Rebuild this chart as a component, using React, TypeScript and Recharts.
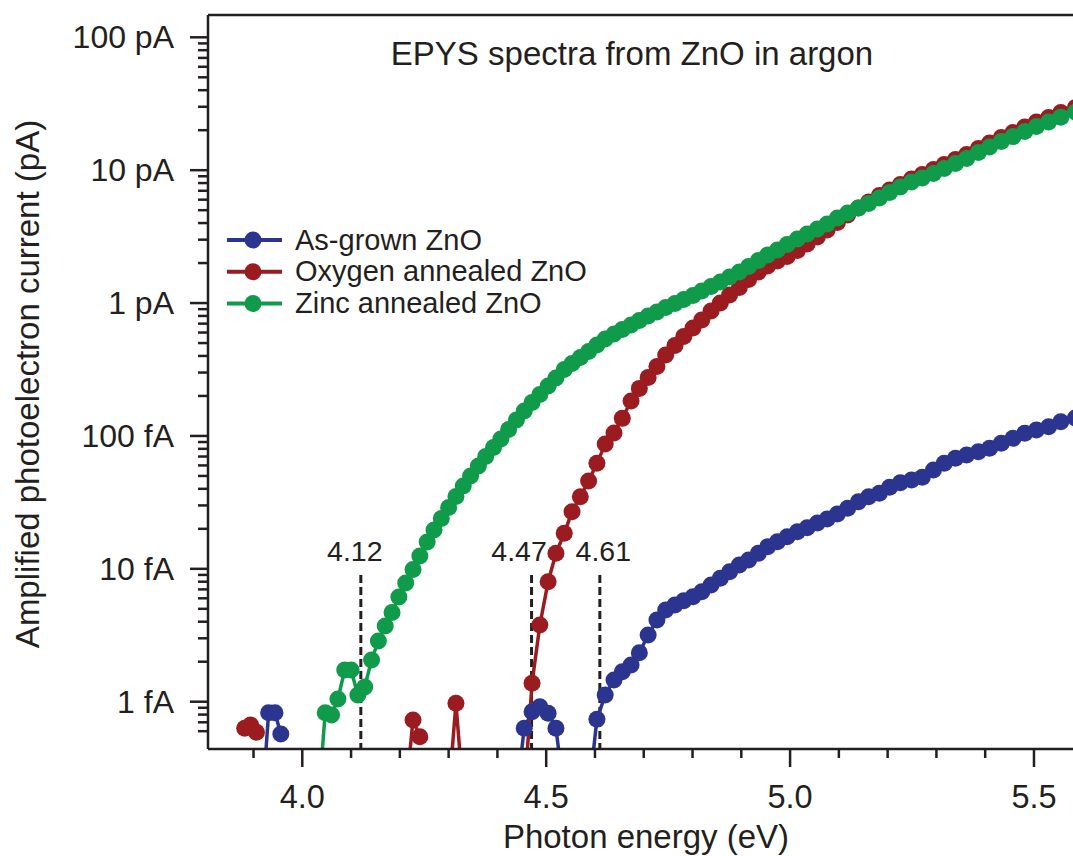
import React from 'react';
import { LineChart, Line, XAxis, YAxis, ReferenceLine, Legend } from 'recharts';

// ---------- data (photon energy in eV, photoelectron current in pA) ----------
// B marks readings that fall below the plotted range (only the line toward them is visible)
const B = 0.0002;

const energy = [
  3.870, 3.882, 3.894, 3.906, 3.919, 3.931, 3.944, 3.956, 3.969, 3.982,
  3.995, 4.007, 4.021, 4.034, 4.047, 4.060, 4.073, 4.087, 4.100, 4.114,
  4.128, 4.142, 4.156, 4.170, 4.184, 4.198, 4.212, 4.227, 4.241, 4.256,
  4.270, 4.285, 4.300, 4.315, 4.330, 4.345, 4.361, 4.376, 4.392, 4.407,
  4.423, 4.439, 4.455, 4.471, 4.487, 4.504, 4.520, 4.537, 4.553, 4.570,
  4.587, 4.604, 4.621, 4.639, 4.656, 4.674, 4.691, 4.709, 4.727, 4.745,
  4.764, 4.782, 4.801, 4.819, 4.838, 4.857, 4.876, 4.896, 4.915, 4.935,
  4.954, 4.974, 4.994, 5.015, 5.035, 5.056, 5.076, 5.097, 5.118, 5.140,
  5.161, 5.183, 5.204, 5.226, 5.249, 5.271, 5.294, 5.316, 5.339, 5.362,
  5.386, 5.409, 5.433, 5.457, 5.481, 5.505, 5.530, 5.555, 5.585,
];

const asGrown = [
  null, null, null, null, B, 8.26e-4, 8.26e-4, 5.71e-4, null, null,
  null, null, null, null, null, null, null, null, null, null,
  null, null, null, null, null, null, null, null, null, null,
  null, null, null, null, null, null, null, null, null, null,
  null, B, 6.31e-4, 8.41e-4, 9.17e-4, 8.18e-4, 6.31e-4, B, null, null,
  B, 7.37e-4, 1.122e-3, 1.457e-3, 1.682e-3, 1.888e-3, 2.338e-3, 3.177e-3, 4.12e-3, 4.9e-3,
  5.34e-3, 5.75e-3, 6.17e-3, 6.73e-3, 7.55e-3, 8.48e-3, 9.51e-3, 1.068e-2, 1.165e-2, 1.308e-2,
  1.467e-2, 1.6e-2, 1.744e-2, 1.902e-2, 2.039e-2, 2.212e-2, 2.37e-2, 2.584e-2, 2.851e-2, 3.198e-2,
  3.487e-2, 3.7e-2, 4.104e-2, 4.446e-2, 4.659e-2, 4.882e-2, 5.537e-2, 6.22e-2, 6.785e-2, 7.18e-2,
  7.6e-2, 8.065e-2, 8.8e-2, 9.59e-2, 0.1046, 0.1108, 0.1173, 0.1279, 0.1364,
];

const oxygenAnnealed = [
  null, 6.31e-4, 6.68e-4, 5.89e-4, null, null, null, null, null, null,
  null, null, null, null, null, null, null, null, null, null,
  null, null, null, null, null, null, B, 7.28e-4, 5.45e-4, null,
  null, null, B, 9.72e-4, B, null, null, null, null, null,
  null, null, B, 1.375e-3, 3.776e-3, 8.0e-3, 1.308e-2, 1.849e-2, 2.69e-2, 3.487e-2,
  4.578e-2, 6.22e-2, 8.69e-2, 0.1051, 0.1356, 0.1831, 0.228, 0.275, 0.3329, 0.4063,
  0.4788, 0.5596, 0.6484, 0.7449, 0.8705, 1.0, 1.149, 1.308, 1.502, 1.711,
  1.898, 2.07, 2.238, 2.483, 2.779, 3.138, 3.543, 4.034, 4.595, 5.185,
  5.754, 6.44, 7.086, 7.793, 8.57, 9.267, 10.1, 11.02, 12.02, 13.1,
  14.54, 15.99, 17.59, 19.18, 21.1, 23.01, 24.87, 27.13, 29.58,
];

const zincAnnealed = [
  null, null, null, null, null, null, null, null, null, null,
  null, null, null, B, 8.26e-4, 7.94e-4, 1.048e-3, 1.732e-3, 1.732e-3, 1.123e-3,
  1.29e-3, 2.06e-3, 2.862e-3, 3.713e-3, 4.691e-3, 6.135e-3, 7.82e-3, 9.88e-3, 1.248e-2, 1.591e-2,
  1.958e-2, 2.39e-2, 2.892e-2, 3.5e-2, 4.198e-2, 4.993e-2, 5.935e-2, 7.0e-2, 8.18e-2, 9.48e-2,
  0.1117, 0.1317, 0.1539, 0.1784, 0.2049, 0.2374, 0.2727, 0.316, 0.3506, 0.389,
  0.4315, 0.4831, 0.5359, 0.5843, 0.6318, 0.6832, 0.7384, 0.7985, 0.8556, 0.9249,
  0.9913, 1.062, 1.139, 1.231, 1.331, 1.439, 1.569, 1.711, 1.882, 2.088,
  2.297, 2.505, 2.755, 3.031, 3.306, 3.605, 3.93, 4.362, 4.756, 5.185,
  5.607, 6.168, 6.785, 7.463, 8.137, 8.722, 9.428, 10.28, 11.21, 12.23,
  13.57, 14.92, 16.41, 17.89, 19.52, 21.29, 23.01, 25.08, 27.36,
];

const seriesNames = ['As-grown ZnO', 'Oxygen annealed ZnO', 'Zinc annealed ZnO'];

const onsetEnergies = [4.12, 4.47, 4.61];
const onsetLabels = ['4.12', '4.47', '4.61'];

const xTicks = [3.9, 4.0, 4.1, 4.2, 4.3, 4.4, 4.5, 4.6, 4.7, 4.8, 4.9, 5.0, 5.1, 5.2, 5.3, 5.4, 5.5];
const xMajorTicks = [4.0, 4.5, 5.0, 5.5];
const xTickLabels = ['4.0', '4.5', '5.0', '5.5'];

const yTicks = [
  0.0006, 0.0007, 0.0008, 0.0009,
  0.001, 0.002, 0.003, 0.004, 0.005, 0.006, 0.007, 0.008, 0.009,
  0.01, 0.02, 0.03, 0.04, 0.05, 0.06, 0.07, 0.08, 0.09,
  0.1, 0.2, 0.3, 0.4, 0.5, 0.6, 0.7, 0.8, 0.9,
  1, 2, 3, 4, 5, 6, 7, 8, 9,
  10, 20, 30, 40, 50, 60, 70, 80, 90,
  100,
];
const yMajorTicks = [0.001, 0.01, 0.1, 1, 10, 100];
const yTickLabels = ['1 fA', '10 fA', '100 fA', '1 pA', '10 pA', '100 pA'];

// ---------- styling ----------
const FONT = '"Liberation Sans", Arial, Helvetica, sans-serif';
const INK = '#231F20';
const COLORS = ['#2B3590', '#9B1C20', '#0F9B4A'];
const X_DOMAIN: [number, number] = [3.8067, 5.58];
const Y_MIN = 4.406e-4;
const Y_MAX = 147.2;
const ONSET_TOP = 0.009;
const ONSET_DX = [-6, -12.5, 3.5];
const DOT_R = 8.5;

const rows = energy.map((e, i) => ({
  e,
  asGrown: asGrown[i],
  oxygen: oxygenAnnealed[i],
  zinc: zincAnnealed[i],
}));

const XTick = (props: any) => {
  const { x, y, payload } = props;
  const i = xMajorTicks.indexOf(payload.value);
  const major = i >= 0;
  return (
    <g>
      <line x1={x} x2={x} y1={y} y2={y + (major ? 18 : 9)} stroke={INK} strokeWidth={2.5} />
      {major && (
        <text x={x} y={y + 59} textAnchor="middle" fontSize={32.5} fontFamily={FONT} fill={INK}>
          {xTickLabels[i]}
        </text>
      )}
    </g>
  );
};

const YTick = (props: any) => {
  const { x, y, payload } = props;
  const i = yMajorTicks.indexOf(payload.value);
  const major = i >= 0;
  return (
    <g>
      <line x1={x - (major ? 18 : 10)} x2={x} y1={y} y2={y} stroke={INK} strokeWidth={2.5} />
      {major && (
        <text x={x - 34} y={y + 11} textAnchor="end" fontSize={32} fontFamily={FONT} fill={INK}>
          {yTickLabels[i]}
        </text>
      )}
    </g>
  );
};

const OnsetLabel = (props: any) => {
  const { viewBox, text, dx } = props;
  if (!viewBox) return null;
  return (
    <text x={viewBox.x + dx} y={viewBox.y - 13.5} textAnchor="middle" fontSize={28.5} fontFamily={FONT} fill={INK}>
      {text}
    </text>
  );
};

const LegendContent = (props: any) => {
  const { payload } = props;
  if (!payload) return null;
  return (
    <svg width={400} height={100} style={{ display: 'block', overflow: 'visible' }}>
      {payload.map((entry: any, i: number) => {
        const cy = 18 + i * 31.7;
        return (
          <g key={i}>
            <line x1={7} x2={62} y1={cy} y2={cy} stroke={entry.color} strokeWidth={4} />
            <circle cx={33} cy={cy} r={DOT_R} fill={entry.color} />
            <text x={75} y={cy + 9.5} fontSize={29} fontFamily={FONT} fill={INK}>
              {entry.value}
            </text>
          </g>
        );
      })}
    </svg>
  );
};

export default function App() {
  const keys = ['asGrown', 'oxygen', 'zinc'];
  return (
    <div style={{ position: 'absolute', left: 0, top: 0, background: '#fff' }}>
      <LineChart
        width={1073}
        height={856}
        data={rows}
        margin={{ top: 15, right: 0, bottom: 0, left: 0 }}
      >
        <XAxis
          dataKey="e"
          type="number"
          domain={X_DOMAIN}
          allowDataOverflow
          ticks={xTicks}
          interval={0}
          tick={<XTick />}
          tickLine={false}
          tickSize={0}
          tickMargin={0}
          height={107}
          axisLine={{ stroke: INK, strokeWidth: 2.5 }}
        />
        <YAxis
          type="number"
          scale="log"
          domain={[Y_MIN, Y_MAX]}
          allowDataOverflow
          ticks={yTicks}
          interval={0}
          tick={<YTick />}
          tickLine={false}
          tickSize={0}
          tickMargin={0}
          width={208}
          axisLine={{ stroke: INK, strokeWidth: 2.5 }}
        />
        {/* top frame of the plot box */}
        <ReferenceLine y={Y_MAX} stroke={INK} strokeWidth={2.5} ifOverflow="visible" />
        {onsetEnergies.map((e, i) => (
          <ReferenceLine
            key={onsetLabels[i]}
            segment={[{ x: e, y: ONSET_TOP }, { x: e, y: Y_MIN }]}
            stroke={INK}
            strokeWidth={3}
            strokeDasharray="8 4"
            ifOverflow="visible"
            label={<OnsetLabel text={onsetLabels[i]} dx={ONSET_DX[i]} />}
          />
        ))}
        {keys.map((k, i) => (
          <Line
            key={k}
            dataKey={k}
            name={seriesNames[i]}
            type="linear"
            stroke={COLORS[i]}
            strokeWidth={3.5}
            dot={{ r: DOT_R, fill: COLORS[i], stroke: 'none', strokeWidth: 0 }}
            activeDot={false}
            isAnimationActive={false}
            connectNulls={false}
          />
        ))}
        <Legend
          layout="vertical"
          align="center"
          verticalAlign="middle"
          wrapperStyle={{ left: 220, top: 222, width: 400, height: 100 }}
          content={<LegendContent />}
        />
        <text x={632} y={65} textAnchor="middle" fontSize={33} fontFamily={FONT} fill={INK}>
          EPYS spectra from ZnO in argon
        </text>
        <text x={646} y={848} textAnchor="middle" fontSize={33} fontFamily={FONT} fill={INK}>
          Photon energy (eV)
        </text>
        <text
          x={0}
          y={0}
          transform="translate(39,384) rotate(-90)"
          textAnchor="middle"
          fontSize={33}
          fontFamily={FONT}
          fill={INK}
        >
          Amplified photoelectron current (pA)
        </text>
      </LineChart>
    </div>
  );
}
